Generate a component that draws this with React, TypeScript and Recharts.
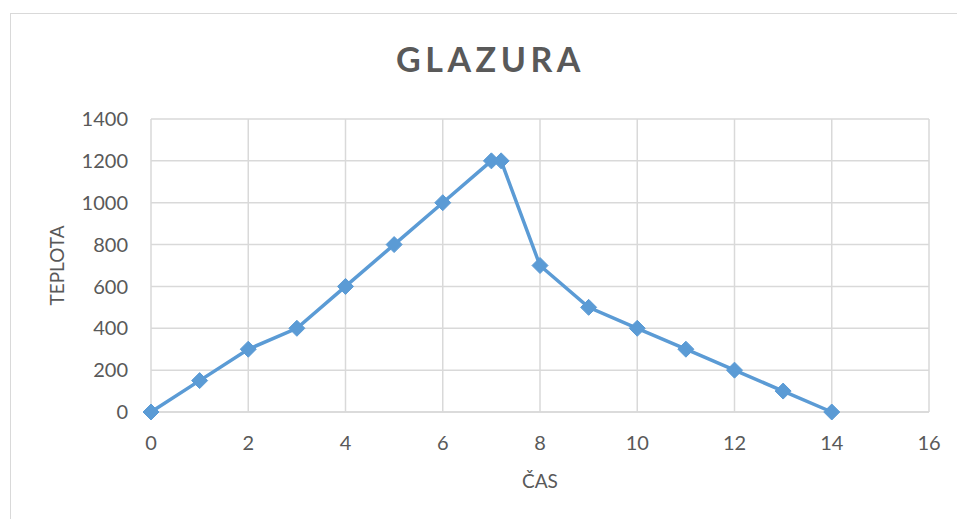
import { CartesianGrid, Line, LineChart, XAxis, YAxis } from "recharts";

const casValues = [0, 1, 2, 3, 4, 5, 6, 7, 7.2, 8, 9, 10, 11, 12, 13, 14];
const teplotaValues = [0, 150, 300, 400, 600, 800, 1000, 1200, 1200, 700, 500, 400, 300, 200, 100, 0];
const xTicks = [0, 2, 4, 6, 8, 10, 12, 14, 16];
const yTicks = [0, 200, 400, 600, 800, 1000, 1200, 1400];

const data = casValues.map((cas, i) => ({ cas, teplota: teplotaValues[i] }));

const BLUE = "#5B9BD5";
const TEXT = "#595959";
const GRID = "#D9D9D9";
const FONT = "Lato, 'Open Sans', sans-serif";

function Diamond(props: any) {
  const { cx, cy } = props;
  if (cx == null || cy == null) return null;
  const r = 8;
  return <path d={`M${cx},${cy - r}L${cx + r},${cy}L${cx},${cy + r}L${cx - r},${cy}Z`} fill={BLUE} stroke={BLUE} strokeWidth={1} />;
}

export default function App() {
  return (
    <div style={{ position: "relative", width: 957, height: 519, overflow: "hidden", background: "#fff" }}>
      <style>{`body{margin:0}`}</style>
      <div style={{ position: "absolute", left: 10, top: 13, width: 960, height: 520, border: `1px solid ${GRID}`, boxSizing: "border-box" }} />
      <div
        style={{
          position: "absolute",
          left: 12,
          top: 42,
          width: 957,
          textAlign: "center",
          fontFamily: FONT,
          fontWeight: 700,
          fontSize: 34,
          lineHeight: 1,
          letterSpacing: 4.5,
          color: TEXT,
        }}
      >
        GLAZURA
      </div>
      <LineChart width={957} height={519} data={data} margin={{ top: 119, right: 28, bottom: 0, left: 0 }} style={{ position: "absolute", left: 0, top: 0 }}>
        <CartesianGrid stroke={GRID} strokeWidth={1.5} />
        <XAxis
          dataKey="cas"
          type="number"
          domain={[0, 16]}
          ticks={xTicks}
          height={107}
          tickLine={false}
          axisLine={{ stroke: GRID, strokeWidth: 1.5 }}
          tickSize={0}
          tickMargin={24}
          tick={{ fill: TEXT, fontSize: 20, fontFamily: FONT }}
          label={{ value: "ČAS", position: "insideBottom", offset: 31, fill: TEXT, fontSize: 19, fontFamily: FONT }}
        />
        <YAxis
          type="number"
          domain={[0, 1400]}
          ticks={yTicks}
          width={151}
          tickLine={false}
          axisLine={false}
          tickSize={0}
          tickMargin={23}
          tick={{ fill: TEXT, fontSize: 20, fontFamily: FONT }}
          label={{ value: "TEPLOTA", angle: -90, position: "insideLeft", offset: 57, fill: TEXT, fontSize: 19, fontFamily: FONT, style: { textAnchor: "middle" } }}
        />
        <Line type="linear" dataKey="teplota" stroke={BLUE} strokeWidth={3.5} dot={<Diamond />} activeDot={false} isAnimationActive={false} />
      </LineChart>
    </div>
  );
}
